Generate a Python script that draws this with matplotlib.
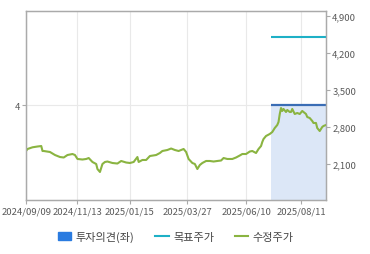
import matplotlib
matplotlib.use("Agg")
import matplotlib.pyplot as plt
from matplotlib.patches import Patch
from matplotlib.lines import Line2D

plt.rcParams['font.family'] = ['Noto Sans CJK KR', 'DejaVu Sans']

# trading-day index from 2024/09/09
tick_idx = [0, 41, 83, 129, 176, 220]
tick_labels = ["2024/09/09", "2024/11/13", "2025/01/15", "2025/03/27", "2025/06/10", "2025/08/11"]

price_idx = [0, 1, 5, 9, 12, 13, 14, 19, 23, 27, 30, 33, 37, 39, 41, 45, 48, 50, 53, 56,
             57, 59, 61, 63, 65, 69, 73, 76, 80, 83, 86, 89, 90, 93, 96, 99, 104, 107, 109, 113,
             116, 119, 122, 124, 126, 128, 130, 133, 135, 137, 139, 141, 144, 147, 150, 153, 156, 158, 161, 165,
             168, 171, 173, 176, 179, 181, 184, 186, 188, 189, 190, 192, 195, 197, 199, 201, 202, 203, 204, 205,
             206, 208, 209, 211, 212, 213, 215, 217, 219, 221, 222, 224, 225, 227, 229, 230, 232, 233, 235, 237,
             238, 240]
price = [2352, 2384, 2416, 2431, 2440, 2346, 2346, 2327, 2270, 2232, 2223, 2270, 2289, 2270, 2195, 2185, 2195, 2213, 2138, 2100,
         2005, 1949, 2100, 2138, 2147, 2119, 2109, 2157, 2128, 2119, 2138, 2232, 2138, 2176, 2176, 2251, 2270, 2308, 2346, 2365,
         2393, 2365, 2346, 2365, 2384, 2327, 2195, 2119, 2100, 2005, 2081, 2119, 2157, 2157, 2147, 2157, 2166, 2213, 2195, 2195,
         2223, 2261, 2289, 2289, 2336, 2346, 2308, 2384, 2440, 2516, 2573, 2630, 2668, 2705, 2781, 2838, 2895, 3046, 3159, 3103,
         3141, 3084, 3122, 3084, 3084, 3141, 3046, 3065, 3046, 3103, 3084, 3046, 2989, 2970, 2914, 2876, 2876, 2781, 2724, 2800,
         2819, 2838]

opinion_idx = [196, 240]
opinion = [4, 4]
target_idx = [196, 240]
target = [4500, 4500]

fig = plt.figure(figsize=(3.7, 2.55), dpi=100)
ax = fig.add_axes([0.071, 0.212, 0.81, 0.741])
ax2 = ax.twinx()

ax.fill_between(opinion_idx, 0, opinion, color="#dce7f7", lw=0)
ax.plot(opinion_idx, opinion, color="#3a6db5", lw=1.6, solid_capstyle="butt")
ax.set_ylim(0, 8)
ax.set_yticks([4])
ax.set_yticklabels(["4"])
ax.set_xlim(0, 240)
ax.set_xticks(tick_idx)
ax.set_xticklabels(tick_labels)
ax.grid(True, color="#e9e9e9", lw=0.8)
ax.set_axisbelow(True)

ax2.plot(target_idx, target, color="#1eb0c6", lw=1.5, solid_capstyle="butt")
ax2.plot(price_idx, price, color="#8ab441", lw=1.5)
ax2.set_ylim(1420, 4995)
ax2.set_yticks([2100, 2800, 3500, 4200, 4900])
ax2.set_yticklabels(["2,100", "2,800", "3,500", "4,200", "4,900"])

for a in (ax, ax2):
    for s in a.spines.values():
        s.set_color("#aaaaaa")
        s.set_linewidth(0.9)
    a.tick_params(colors="#aaaaaa", labelcolor="#5a5a5a", labelsize=6.8, length=3, width=0.8, pad=1.5)

handles = [Patch(color="#2a7be0"), Line2D([], [], color="#1eb0c6", lw=1.5),
           Line2D([], [], color="#8ab441", lw=1.5)]
fig.legend(handles, ["투자의견(좌)", "목표주가", "수정주가"], loc="center", bbox_to_anchor=(0.475, 0.07),
           ncol=3, frameon=False, fontsize=8, handlelength=1.2, handletextpad=0.4, columnspacing=1.9,
           labelcolor="#444444")

fig.savefig("out.png", dpi=100)
